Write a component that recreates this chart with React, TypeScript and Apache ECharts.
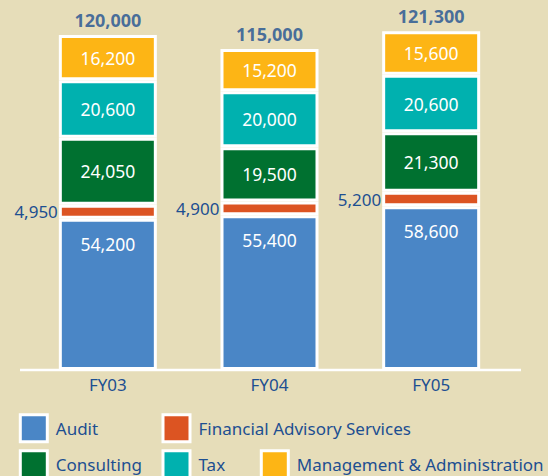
import React, { useEffect, useRef } from "react";
import * as echarts from "echarts";

const categories = ["FY03", "FY04", "FY05"];
const audit = [54200, 55400, 58600];
const financialAdvisory = [4950, 4900, 5200];
const consulting = [24050, 19500, 21300];
const tax = [20600, 20000, 20600];
const management = [16200, 15200, 15600];
const totals = [120000, 115000, 121300];

const BLUE_TEXT = "#1D4F91";
const FONT = "'Noto Sans', sans-serif";
const fmt = (v: number) => v.toLocaleString("en-US");

export default function App() {
  const ref = useRef<HTMLDivElement>(null);
  useEffect(() => {
    if (!ref.current) return;
    const chart = echarts.init(ref.current, null, { renderer: "svg" });
    const border = { borderColor: "#ffffff", borderWidth: 3 };
    const insideLabel = {
      show: true,
      position: "inside",
      color: "#ffffff",
      fontSize: 17.5,
      fontFamily: FONT,
      formatter: (p: any) => fmt(p.value),
    };
    const bar = (name: string, data: number[], color: string, label: any) => ({
      name,
      type: "bar",
      stack: "a",
      data,
      barWidth: 98,
      itemStyle: { color, ...border },
      label,
    });
    const legendBase = {
      orient: "horizontal",
      padding: 0,
      itemWidth: 27,
      itemHeight: 27,
      icon: "rect",
      itemStyle: { borderColor: "#ffffff", borderWidth: 3 },
      textStyle: {
        color: BLUE_TEXT,
        fontSize: 17,
        fontFamily: FONT,
        padding: [0, 0, 0, 3.5],
      },
      selectedMode: false,
    };
    chart.setOption({
      animation: false,
      backgroundColor: "#E6DDB9",
      grid: { left: 27, width: 485, top: 7, bottom: 106 },
      xAxis: {
        type: "category",
        data: categories,
        axisLine: { show: false },
        axisTick: { show: false },
        axisLabel: { color: BLUE_TEXT, fontSize: 17, fontFamily: FONT, margin: 6 },
      },
      yAxis: {
        type: "value",
        min: 0,
        max: 130000,
        show: false,
        splitLine: { show: false },
      },
      legend: [
        { ...legendBase, data: ["Audit"], left: 18.8, top: 413.2 },
        { ...legendBase, data: ["Financial Advisory Services"], left: 161.5, top: 413.2 },
        { ...legendBase, data: ["Consulting"], left: 18.8, top: 449.2 },
        { ...legendBase, data: ["Tax"], left: 161.5, top: 449.2 },
        { ...legendBase, data: ["Management & Administration"], left: 259.8, top: 449.2 },
      ],
      graphic: [
        {
          type: "line",
          shape: { x1: 20, y1: 370, x2: 521, y2: 370 },
          style: { stroke: "#ffffff", lineWidth: 2.5 },
          z: 1,
        },
      ],
      series: [
        bar("Audit", audit, "#4A86C6", { ...insideLabel, position: "insideTop", distance: 16 }),
        bar("Financial Advisory Services", financialAdvisory, "#DC5422", {
          show: true,
          position: "left",
          distance: 1,
          color: BLUE_TEXT,
          fontSize: 17,
          fontFamily: FONT,
          formatter: (p: any) => fmt(p.value),
        }),
        bar("Consulting", consulting, "#007130", insideLabel),
        bar("Tax", tax, "#00B1AF", insideLabel),
        bar("Management & Administration", management, "#FDB515", insideLabel),
        {
          name: "Total",
          type: "scatter",
          data: totals,
          symbolSize: 0,
          itemStyle: { color: "transparent" },
          label: {
            show: true,
            position: "top",
            distance: 6,
            color: BLUE_TEXT,
            fontSize: 18,
            fontWeight: "bold",
            fontFamily: FONT,
            formatter: (p: any) => fmt(p.value),
          },
          z: 5,
        },
      ],
    });
    return () => chart.dispose();
  }, []);
  return <div ref={ref} style={{ width: 548, height: 476, position: "absolute", left: 0, top: 0 }} />;
}
